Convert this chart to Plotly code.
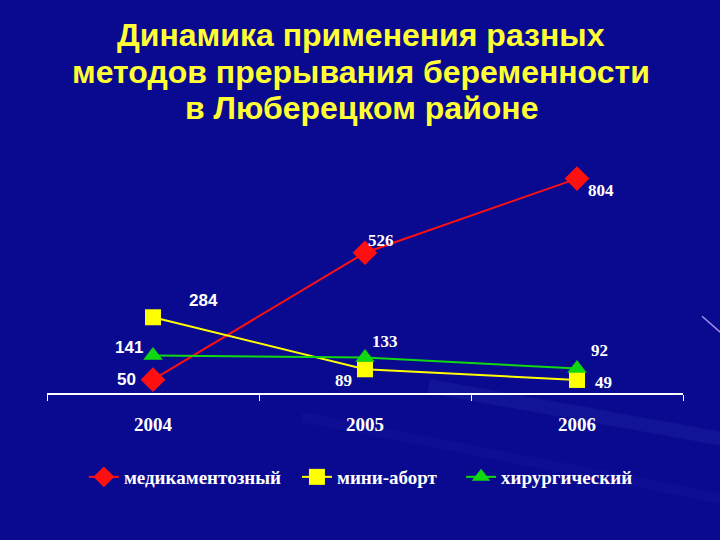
import plotly.graph_objects as go

years = ["2004", "2005", "2006"]
med = [50, 526, 804]
mini = [284, 89, 49]
surg = [141, 133, 92]
names = ["медикаментозный", "мини-аборт", "хирургический"]
title_lines = ["Динамика применения разных", "методов прерывания беременности", "в Люберецком районе"]

SERIF = "Liberation Serif, Times New Roman, serif"
SANS = "Liberation Sans, Arial, sans-serif"

fig = go.Figure()
fig.add_trace(go.Scatter(x=years, y=med, name="<b>%s</b>" % names[0], mode="lines+markers",
                         line=dict(color="#ff1010", width=2), legend="legend",
                         marker=dict(symbol="diamond", size=19, color="#ff1010")))
fig.add_trace(go.Scatter(x=years, y=mini, name="<b>%s</b>" % names[1], mode="lines+markers",
                         line=dict(color="#ffff00", width=2), legend="legend2",
                         marker=dict(symbol="square", size=16, color="#ffff00")))
fig.add_trace(go.Scatter(x=years, y=surg, name="<b>%s</b>" % names[2], mode="lines+markers",
                         line=dict(color="#10d810", width=2), legend="legend3",
                         marker=dict(symbol="triangle-up", size=17, color="#10d810")))

# data labels: (series values, per-point offsets, per-point font family)
label_specs = [
    (med, [(-27, 0), (16, 12), (24, -12)], [SANS, SERIF, SERIF]),
    (mini, [(50, 17), (-22, -11), (26, -3)], [SANS, SERIF, SERIF]),
    (surg, [(-24, 8), (20, 16), (22, 18)], [SANS, SERIF, SERIF]),
]
annotations = []
for vals, offs, fams in label_specs:
    for i, v in enumerate(vals):
        annotations.append(dict(x=i, y=v, xref="x", yref="y", text="<b>%d</b>" % v, showarrow=False,
                                xshift=offs[i][0], yshift=offs[i][1],
                                font=dict(family=fams[i], size=17, color="white")))

title_shifts = [118, 81, 45]
for line, ys in zip(title_lines, title_shifts):
    annotations.append(dict(xref="paper", yref="paper", x=0.494, y=1.0, yshift=ys,
                            text="<b>%s</b>" % line, showarrow=False, yanchor="middle",
                            font=dict(family=SANS, size=32, color="#ffff33")))

shapes = [
    dict(type="line", xref="paper", yref="paper", x0=0.60, y0=0.03, x1=1.08, y1=-0.20,
         line=dict(color="rgba(130,150,255,0.07)", width=14), layer="below"),
    dict(type="line", xref="paper", yref="paper", x0=0.40, y0=-0.10, x1=1.08, y1=-0.45,
         line=dict(color="rgba(110,130,255,0.04)", width=10), layer="below"),
    dict(type="line", xref="paper", yref="paper", x0=1.03, y0=0.32, x1=1.06, y1=0.25,
         line=dict(color="rgba(200,180,255,0.8)", width=1.5), layer="below"),
]

def leg(xpos):
    return dict(orientation="h", x=xpos, xanchor="left", y=-0.35, yanchor="middle",
                font=dict(family=SERIF, size=19, color="white"),
                bgcolor="rgba(0,0,0,0)", itemwidth=30)

fig.update_layout(
    width=720, height=540,
    margin=dict(l=47, r=37, t=153, b=147),
    paper_bgcolor="#0a0a90", plot_bgcolor="rgba(0,0,0,0)",
    showlegend=True,
    legend=leg(0.058), legend2=leg(0.393), legend3=leg(0.651),
    annotations=annotations,
    shapes=shapes,
)
fig.update_xaxes(type="category", range=[-0.5, 2.5], showgrid=False, zeroline=False,
                 showline=True, linecolor="white", linewidth=1.5,
                 ticks="outside", tickson="boundaries", ticklen=6, tickcolor="white",
                 ticklabelstandoff=13,
                 tickfont=dict(family=SERIF, size=19, color="white"),
                 tickprefix="<b>", ticksuffix="</b>")
fig.update_yaxes(range=[0, 900], visible=False, showgrid=False, zeroline=False)

fig.write_html("out.html", config={"displayModeBar": False},
               post_script="document.body.style.margin='0';document.body.style.background='#0a0a90';")
